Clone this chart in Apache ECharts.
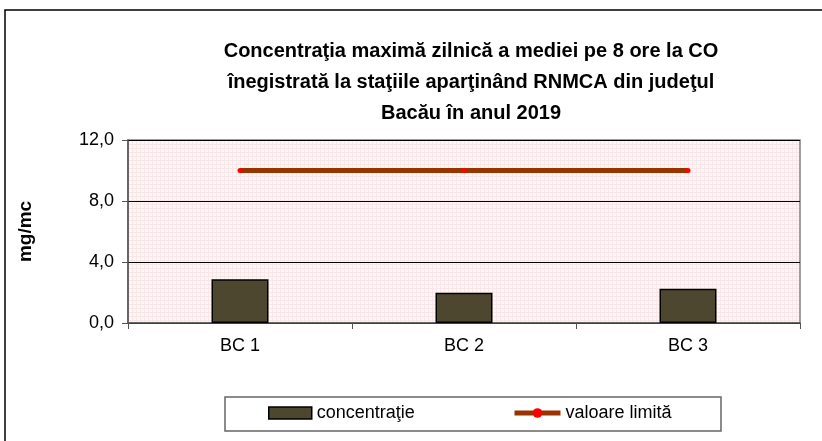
<!DOCTYPE html>
<html>
<head>
<meta charset="utf-8">
<script src="https://cdn.jsdelivr.net/npm/echarts@6/dist/echarts.min.js"></script>
<style>
  html, body { margin: 0; padding: 0; background: #fff; }
  #chart { width: 822px; height: 441px; }
</style>
</head>
<body>
<div id="chart"></div>
<script>
// date
const statii = ['BC 1', 'BC 2', 'BC 3']
const concentratie = [2.87, 1.99, 2.25]
const valoareLimita = [10, 10, 10]
const yTicks = [0, 4, 8, 12]

// textura roz a zonei de desen
function pattern () {
  let c = document.createElement('canvas')
  c.width = 4
  c.height = 4
  let ctx = c.getContext('2d')
  ctx.fillStyle = '#fdf6f6'
  ctx.fillRect(0, 0, 4, 4)
  ctx.fillStyle = '#f9e6e6'
  ctx.fillRect(0, 0, 4, 1)
  ctx.fillRect(0, 0, 1, 4)
  return c
}

let myChart = echarts.init(document.getElementById('chart'))
let font = 'Liberation Sans, Arial, sans-serif'
let legendText = { fontFamily: font, fontSize: 18, color: '#000' }
let option = {
  animation: false,
  title: {
    text: 'Concentraţia maximă zilnică a mediei pe 8 ore la CO\nînegistrată la staţiile aparţinând RNMCA din judeţul\nBacău în anul 2019',
    left: 466,
    top: 31,
    textAlign: 'center',
    textStyle: {
      fontFamily: font,
      fontSize: 20,
      fontWeight: 'bold',
      color: '#000',
      lineHeight: 31
    }
  },
  graphic: [{
    type: 'polyline',
    shape: { points: [[5, 441], [5, 10], [822, 10]] },
    style: { stroke: '#000', lineWidth: 1.5, fill: null }
  }, {
    type: 'rect',
    shape: { x: 225, y: 397, width: 496, height: 34 },
    style: { stroke: '#666', lineWidth: 1.5, fill: '#fff' },
    z: -1
  }],
  legend: [{
    left: 268,
    top: 404,
    padding: 0,
    itemWidth: 43,
    itemHeight: 12,
    itemGap: 6,
    textStyle: legendText,
    data: [
      { name: 'concentraţie', icon: 'rect', itemStyle: { color: '#4d472f', borderColor: '#000', borderWidth: 1.5 } }
    ]
  }, {
    left: 512,
    top: 404,
    padding: 0,
    itemWidth: 46,
    itemHeight: 12,
    textStyle: legendText,
    data: [
      { name: 'valoare limită', lineStyle: { color: '#993300', width: 5 }, itemStyle: { color: '#ff0000' }, symbolSize: 5 }
    ]
  }],
  grid: {
    left: 128,
    right: 22,
    top: 140,
    bottom: 118,
    show: true,
    backgroundColor: { image: pattern(), repeat: 'repeat' },
    borderColor: '#808080',
    borderWidth: 1.5
  },
  xAxis: {
    type: 'category',
    data: statii,
    boundaryGap: true,
    axisLine: { lineStyle: { color: '#555', width: 1.5 } },
    axisTick: { show: true, length: 6, lineStyle: { color: '#555' } },
    axisLabel: { fontFamily: font, fontSize: 18, color: '#000', margin: 14 }
  },
  yAxis: {
    type: 'value',
    min: 0,
    max: 12,
    interval: 4,
    name: 'mg/mc',
    nameLocation: 'middle',
    nameGap: 93,
    nameTextStyle: { fontFamily: font, fontSize: 19, fontWeight: 'bold', color: '#000' },
    axisLine: { show: true, lineStyle: { color: '#555', width: 1.5 } },
    axisTick: { show: true, length: 6, lineStyle: { color: '#555' } },
    axisLabel: {
      fontFamily: font,
      fontSize: 18,
      color: '#000',
      margin: 14,
      formatter: function (v) { return yTicks.indexOf(v) >= 0 ? v.toFixed(1).replace('.', ',') : '' }
    },
    splitLine: { show: true, lineStyle: { color: '#000', width: 1 } }
  },
  series: [
    {
      name: 'concentraţie',
      type: 'bar',
      barWidth: 57,
      data: concentratie,
      itemStyle: { color: '#4d472f', borderColor: '#000', borderWidth: 1.5 }
    },
    {
      name: 'valoare limită',
      type: 'line',
      data: valoareLimita,
      symbol: 'circle',
      symbolSize: 5,
      lineStyle: { color: '#993300', width: 5 },
      itemStyle: { color: '#ff0000' },
      z: 3
    }
  ]
}
myChart.setOption(option)
</script>
</body>
</html>
